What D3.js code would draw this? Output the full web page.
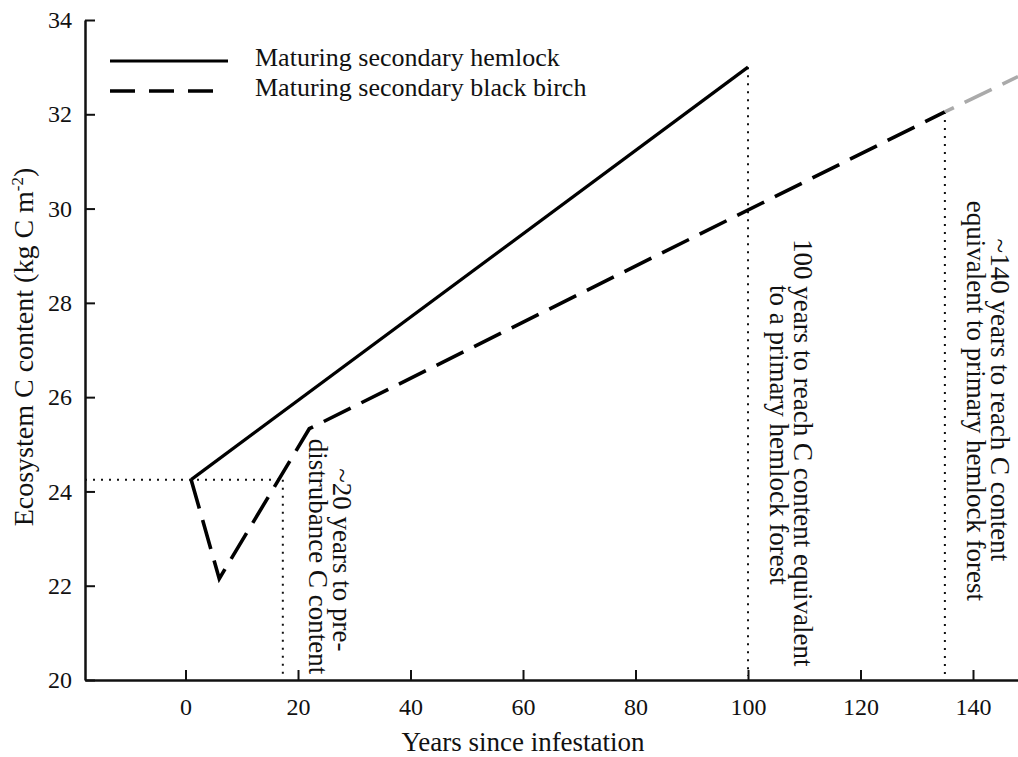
<!DOCTYPE html>
<html>
<head>
  <meta charset="utf-8">
  <title>Ecosystem C content after infestation</title>
  <script src="https://d3js.org/d3.v7.min.js"></script>
  <style>
    body { margin: 0; background: #fff; }
    svg text { font-family: "Liberation Serif", "Times New Roman", serif; fill: #111; }
    .axis path, .axis line { stroke: #111; }
    .axis text { font-size: 24px; }
  </style>
</head>
<body>
<div id="chart"></div>
<script>
  // values
  var xTicks = [0, 20, 40, 60, 80, 100, 120, 140];
  var yTicks = [20, 22, 24, 26, 28, 30, 32, 34];

  var hemlockYears = [1, 100];
  var hemlockC = [24.25, 33.0];

  var birchYears = [1, 6, 22, 135];
  var birchC = [24.25, 22.15, 25.33, 32.05];

  // projected part of the black birch line (grey)
  var birchExtYears = [135, 148];
  var birchExtC = [32.05, 32.8];

  var legendLabels = ["Maturing secondary hemlock", "Maturing secondary black birch"];

  // dotted guide lines: [year, C] where each marker line starts
  var recoveryYears = [17.3, 100, 135];
  var recoveryC = [24.25, 33.0, 32.05];

  var annotations = [
    { year: 17.3, lines: ["~20 years to pre-", "distrubance C content"], centers: [22.55, 22.62] },
    { year: 100, lines: ["100 years to reach C content equivalent", "to a primary hemlock forest"], centers: [24.82, 25.2] },
    { year: 135, lines: ["~140 years to reach C content", "equivalent to primary hemlock forest"], centers: [25.94, 25.92] }
  ];

  var width = 1018, height = 757;
  var svg = d3.select("#chart").append("svg")
      .attr("width", width)
      .attr("height", height);

  var x = d3.scaleLinear().domain([-17.87, 148]).range([85, 1018]);
  var y = d3.scaleLinear().domain([20, 34]).range([680, 20]);

  // axes
  var xAxis = svg.append("g")
      .attr("class", "axis")
      .attr("transform", "translate(0," + y(20) + ")")
      .call(d3.axisBottom(x).tickValues(xTicks).tickSizeInner(-10).tickSizeOuter(0).tickPadding(18));
  xAxis.select(".domain").attr("stroke-width", 2.5);
  xAxis.selectAll(".tick line").attr("stroke-width", 2);

  var yAxis = svg.append("g")
      .attr("class", "axis")
      .attr("transform", "translate(" + x.range()[0] + ",0)")
      .call(d3.axisLeft(y).tickValues(yTicks).tickSizeInner(-10).tickSizeOuter(0).tickPadding(13));
  yAxis.select(".domain").attr("stroke-width", 2.5);
  yAxis.selectAll(".tick line").attr("stroke-width", 2);

  svg.append("text")
      .attr("x", x(60))
      .attr("y", 751)
      .attr("text-anchor", "middle")
      .style("font-size", "27px")
      .text("Years since infestation");

  var yLabel = svg.append("text")
      .attr("transform", "translate(33,347) rotate(-90)")
      .attr("text-anchor", "middle")
      .style("font-size", "28px");
  yLabel.append("tspan").text("Ecosystem C content (kg C m");
  yLabel.append("tspan").attr("dy", -10).style("font-size", "17px").text("-2");
  yLabel.append("tspan").attr("dy", 10).text(")");

  // dotted guides
  var dotted = "2,6";
  svg.append("line")
      .attr("x1", x.range()[0]).attr("x2", x(recoveryYears[0]))
      .attr("y1", y(recoveryC[0])).attr("y2", y(recoveryC[0]))
      .attr("stroke", "#111").attr("stroke-width", 2).attr("stroke-dasharray", dotted);
  recoveryYears.forEach(function(yr, i) {
    svg.append("line")
        .attr("x1", x(yr)).attr("x2", x(yr))
        .attr("y1", y(recoveryC[i])).attr("y2", y(20) - 4)
        .attr("stroke", "#111").attr("stroke-width", 2).attr("stroke-dasharray", dotted);
  });

  var line = d3.line()
      .x(function(d) { return x(d[0]); })
      .y(function(d) { return y(d[1]); });

  svg.append("path")
      .datum(d3.zip(hemlockYears, hemlockC))
      .attr("d", line)
      .attr("fill", "none").attr("stroke", "#000").attr("stroke-width", 3.2);

  var birch = svg.append("path")
      .datum(d3.zip(birchYears, birchC))
      .attr("d", line)
      .attr("fill", "none").attr("stroke", "#000").attr("stroke-width", 3.6)
      .attr("stroke-dasharray", "30,12");

  // keep the dash rhythm going into the grey part
  var birchLen = birch.node().getTotalLength();
  svg.append("path")
      .datum(d3.zip(birchExtYears, birchExtC))
      .attr("d", line)
      .attr("fill", "none").attr("stroke", "#aaa").attr("stroke-width", 3.6)
      .attr("stroke-dasharray", "30,12")
      .attr("stroke-dashoffset", -birchLen);

  // rotated annotations (read top to bottom)
  annotations.forEach(function(a) {
    a.lines.forEach(function(txt, i) {
      var bx = x(a.year) + (i == 0 ? 46 : 22);
      if (a.year < 20) bx = x(a.year) + (i == 0 ? 50 : 26);
      svg.append("text")
          .attr("transform", "translate(" + bx + "," + y(a.centers[i]) + ") rotate(90)")
          .attr("text-anchor", "middle")
          .style("font-size", "27px")
          .text(txt);
    });
  });

  // legend
  var legend = svg.append("g");
  legendLabels.forEach(function(lbl, i) {
    var ly = 61 + i * 30;
    legend.append("line")
        .attr("x1", 110).attr("x2", i == 0 ? 228 : 214)
        .attr("y1", ly).attr("y2", ly)
        .attr("stroke", "#000").attr("stroke-width", i == 0 ? 3.2 : 3.6)
        .attr("stroke-dasharray", i == 0 ? null : "25,14");
    legend.append("text")
        .attr("x", 255).attr("y", ly + 5)
        .style("font-size", "26px")
        .text(lbl);
  });
</script>
</body>
</html>
